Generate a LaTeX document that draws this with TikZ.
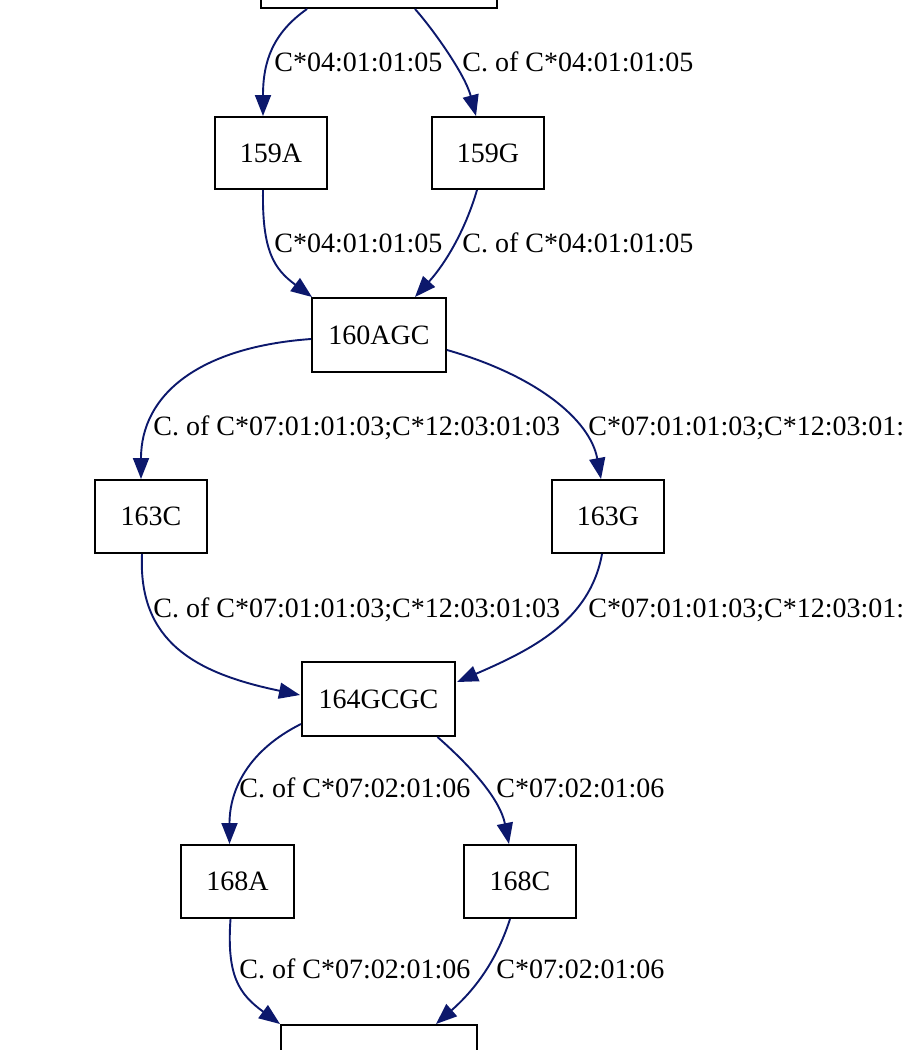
\documentclass[tikz,border=0pt]{standalone}
\usepackage{fontspec}
\setmainfont{Liberation Serif}
\usetikzlibrary{arrows.meta,calc}
\definecolor{edgenavy}{RGB}{12,24,108}
\tikzset{
  box/.style={draw=black, line width=1pt, rectangle, inner sep=0pt, font=\fontsize{14}{16}\selectfont},
  edge/.style={draw=edgenavy, line width=0.95pt, -{Triangle[length=10.5pt,width=8pt]}},
  elabel/.style={anchor=base west, inner sep=0pt, font=\fontsize{14}{16}\selectfont}
}
\begin{document}
\begin{tikzpicture}[x=0.5pt,y=-0.5pt]
\clip (0,0) rectangle (902,1050);
\fill[white] (0,0) rectangle (902,1050);
% nodes
\node[box, minimum width=118pt, minimum height=37pt] (top) at (379,-29) {};
\node[box, minimum width=56pt, minimum height=36pt] (n159A) at (271,153) {159A};
\node[box, minimum width=56pt, minimum height=36pt] (n159G) at (488,153) {159G};
\node[box, minimum width=67pt, minimum height=37pt] (n160) at (379,335) {160AGC};
\node[box, minimum width=56pt, minimum height=36.5pt] (n163C) at (151,516.5) {163C};
\node[box, minimum width=56pt, minimum height=36.5pt] (n163G) at (608,516.5) {163G};
\node[box, minimum width=76.5pt, minimum height=37pt] (n164) at (378.5,699) {164GCGC};
\node[box, minimum width=56.5pt, minimum height=36.5pt] (n168A) at (237.5,881.5) {168A};
\node[box, minimum width=56pt, minimum height=36.5pt] (n168C) at (520,881.5) {168C};
\node[box, minimum width=98pt, minimum height=37pt] (bot) at (379,1062) {};
% edges
\draw[edge] ($(top.south)+(-72,0)$) .. controls +(-34,24) and +(0,-55) .. ($(n159A.north)+(-8,0)$);
\draw[edge] ($(top.south)+(36,0)$) .. controls +(17,19) and +(-11,-42) .. ($(n159G.north)+(-12,0)$);
\draw[edge] ($(n159A.south)+(-8,0)$) .. controls +(-1,61) and +(-38,-28) .. ($(n160.north west)+(1,0)$);
\draw[edge] ($(n159G.south)+(-11,0)$) .. controls +(-12,41) and +(30,-33) .. ($(n160.north)+(36,0)$);
\draw[edge] ($(n160.west)+(0,4)$) .. controls +(-111,8) and +(0,-85) .. ($(n163C.north)+(-10,0)$);
\draw[edge] ($(n160.east)+(0,15)$) .. controls +(88,25) and +(-11,-60) .. ($(n163G.north)+(-7,0)$);
\draw[edge] ($(n163C.south)+(-9,0)$) .. controls +(-4,87) and +(-106,-22) .. ($(n164.west)+(-1,-4)$);
\draw[edge] ($(n163G.south)+(-6,0)$) .. controls +(-12,67) and +(74,-32) .. ($(n164.east)+(1,-17)$);
\draw[edge] ($(n164.west)+(0,25)$) .. controls +(-52,26) and +(0,-55) .. ($(n168A.north)+(-8,0)$);
\draw[edge] ($(n164.south)+(59,0)$) .. controls +(33,29) and +(-9,-45) .. ($(n168C.north)+(-11,0)$);
\draw[edge] ($(n168A.south)+(-7,0)$) .. controls +(-4,57) and +(-41,-30) .. (bot.north west);
\draw[edge] ($(n168C.south)+(-10,0)$) .. controls +(-15,47) and +(34,-30) .. ($(bot.north)+(57,0)$);
% labels
\node[elabel] (l1) at (274,71) {C*04:01:01:05};
\node[elabel] (l2) at (462,71) {C. of C*04:01:01:05};
\node[elabel] (l3) at (274,252) {C*04:01:01:05};
\node[elabel] (l4) at (462,252) {C. of C*04:01:01:05};
\node[elabel] (l5) at (153,435) {C. of C*07:01:01:03;C*12:03:01:03};
\node[elabel] (l6) at (588,435) {C*07:01:01:03;C*12:03:01:};
\node[elabel] (l7) at (153,617) {C. of C*07:01:01:03;C*12:03:01:03};
\node[elabel] (l8) at (588,617) {C*07:01:01:03;C*12:03:01:};
\node[elabel] (l9) at (239,797) {C. of C*07:02:01:06};
\node[elabel] (l10) at (496,797) {C*07:02:01:06};
\node[elabel] (l11) at (239,978) {C. of C*07:02:01:06};
\node[elabel] (l12) at (496,978) {C*07:02:01:06};
\end{tikzpicture}
\end{document}
